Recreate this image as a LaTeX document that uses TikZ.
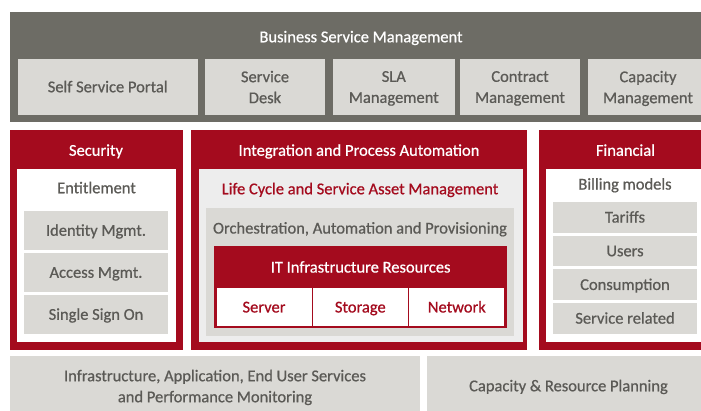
\documentclass[tikz,border=0pt]{standalone}
\usepackage{fontspec}
\setmainfont{Carlito}[RawFeature={embolden=0.7}]
\definecolor{fjred}{HTML}{A40B1E}
\definecolor{darkgrey}{HTML}{6D6C65}
\definecolor{boxgrey}{HTML}{DAD9D5}
\definecolor{palegrey}{HTML}{EDEDED}
\definecolor{textgrey}{HTML}{5B5A56}
\begin{document}
\begin{tikzpicture} [x=1pt, y=-1pt,
    every node/.style={font=\fontsize{16.5}{21}\selectfont, inner sep=0pt, text height=10.5pt, text depth=0pt},
    two/.style={align=center, text height=, text depth=0pt},
    cell/.style={fill=boxgrey, text=textgrey},
    whitecell/.style={fill=white, text=fjred},
    title/.style={text=white},
    plain/.style={text=textgrey}]
    \useasboundingbox (0,0) rectangle (701,410);
    \clip (0,0) rectangle (701,410);
    %Business Service Management
    \fill[darkgrey] (10,12) rectangle (715,122);
    \node[title] (bsm) at (361,37) {Business Service Management};
    \node[cell, minimum width=180pt, minimum height=56pt] (portal) at (107.7,87) {Self Service Portal};
    \node[cell, two, minimum width=120pt, minimum height=56pt] (desk) at (265,87) {Service\\Desk};
    \node[cell, two, minimum width=122pt, minimum height=56pt] (sla) at (393.8,87) {SLA\\Management};
    \node[cell, two, minimum width=120pt, minimum height=56pt] (contract) at (520,87) {Contract\\Management};
    \node[cell, two, minimum width=120pt, minimum height=56pt] (capacity) at (648,87) {Capacity\\Management};
    %Security
    \fill[fjred] (10,130) rectangle (183,350);
    \fill[white] (17,169) rectangle (176,342);
    \node[title] (security) at (96,150.5) {Security};
    \node[plain] (entitle) at (96.5,188) {Entitlement};
    \foreach \y/\name/\txt in {230.5/identity/Identity Mgmt., 272.5/access/Access Mgmt., 314.5/sso/Single Sign On}
      \node[cell, minimum width=144pt, minimum height=39pt] (\name) at (96,\y) {\txt};
    %Integration and automation
    \fill[fjred] (191,130) rectangle (527,350);
    \fill[palegrey] (199,169) rectangle (522.5,342);
    \node[title] (integration) at (359,150.5) {Integration and Process Automation};
    \node[text=fjred] (lifecycle) at (360,189) {Life Cycle and Service Asset Management};
    \fill[boxgrey] (206,208) rectangle (514,336);
    \node[plain] (orch) at (360,228.3) {Orchestration, Automation and Provisioning};
    \fill[fjred] (214,246) rectangle (507.3,327.5);
    \node[title] (infra) at (360.6,267.3) {IT Infrastructure Resources};
    \foreach \x/\name/\txt in {264/server/Server, 360.3/storage/Storage, 456.8/network/Network}
      \node[whitecell, minimum width=95pt, minimum height=37.7pt] (\name) at (\x,307.2) {\txt};
    %Financial
    \fill[fjred] (539,130) rectangle (712,350);
    \fill[white] (546,169) rectangle (705,342);
    \node[title] (financial) at (625.5,150.5) {Financial};
    \node[plain] (billing) at (625,184.3) {Billing models};
    \foreach \y/\name/\txt in {217.3/tariffs/Tariffs, 251/users/Users, 284.7/consumption/Consumption, 318.4/servrel/Service related}
      \node[cell, minimum width=144pt, minimum height=30.7pt] (\name) at (625,\y) {\txt};
    %Monitoring and planning
    \node[cell, two, minimum width=410pt, minimum height=60pt] (monitoring) at (215,386) {Infrastructure, Application, End User Services\\and Performance Monitoring};
    \node[cell, minimum width=283pt, minimum height=60pt] (planning) at (568.5,386) {Capacity \& Resource Planning};
  \end{tikzpicture}
\end{document}
